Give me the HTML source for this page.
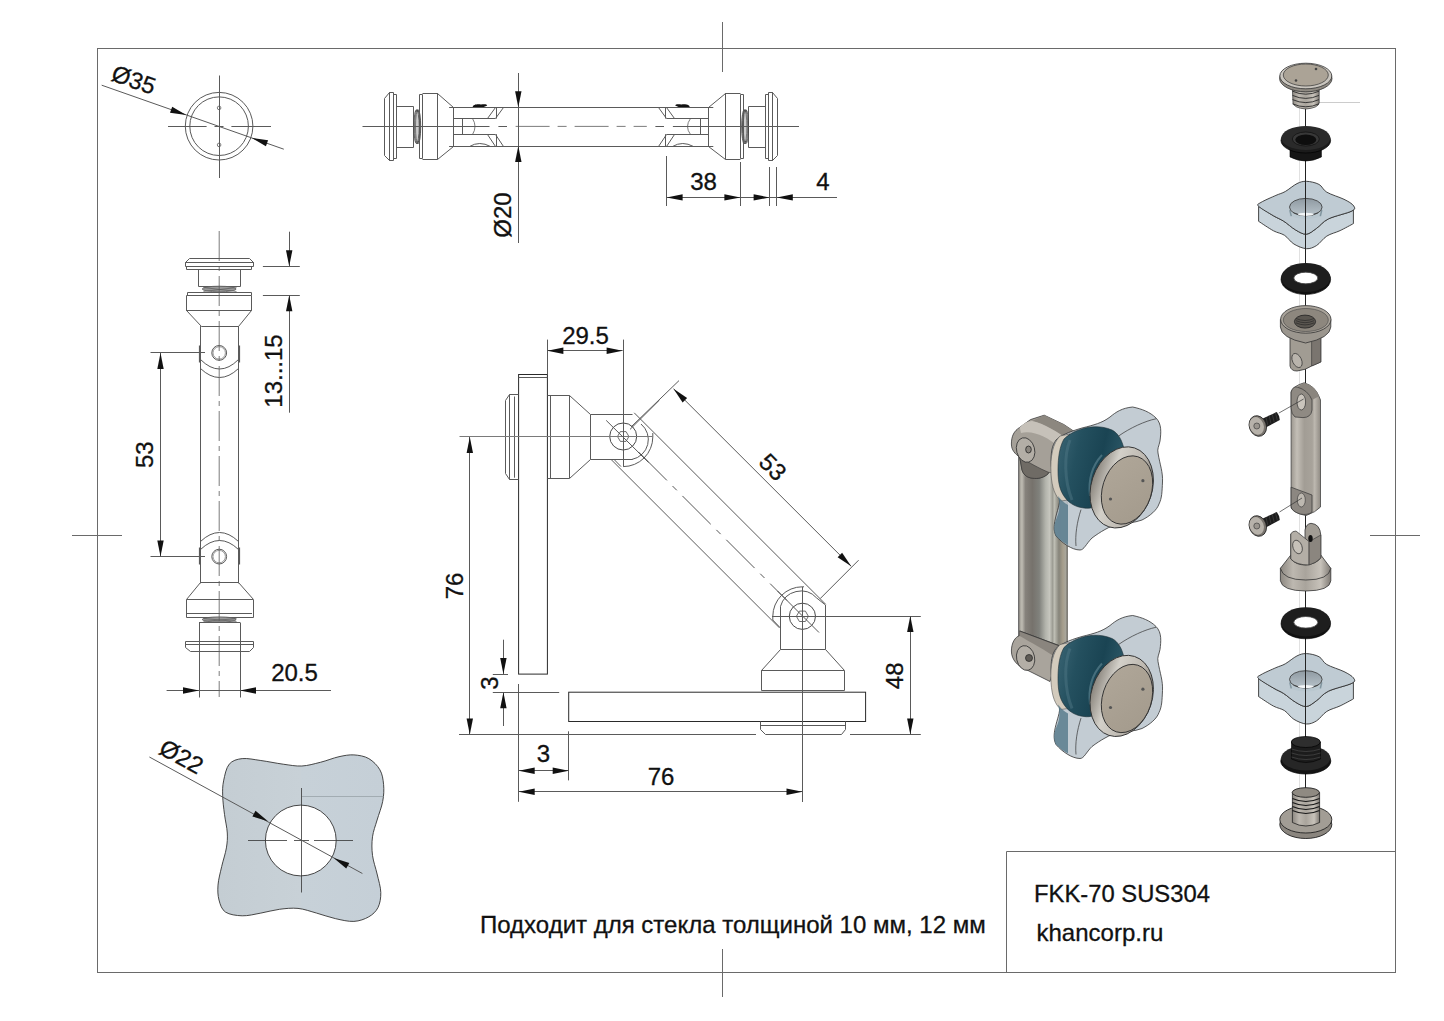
<!DOCTYPE html>
<html><head><meta charset="utf-8"><style>
html,body{margin:0;padding:0;background:#fff;}
body{width:1444px;height:1021px;overflow:hidden;}
svg{display:block;font-family:"Liberation Sans",sans-serif;}
</style></head><body>
<svg width="1444" height="1021" viewBox="0 0 1444 1021">
<defs>
<linearGradient id="plate" x1="0" y1="0" x2="1" y2="0"><stop offset="0" stop-color="#c4cdd3"/><stop offset="0.5" stop-color="#c8d1d7"/><stop offset="0.5" stop-color="#c7d1d8"/><stop offset="1" stop-color="#c5cfd7"/></linearGradient>
<linearGradient id="tube" x1="0" y1="0" x2="1" y2="0"><stop offset="0" stop-color="#5f5c58"/><stop offset="0.03" stop-color="#a8a59d"/><stop offset="0.07" stop-color="#bfbcb3"/><stop offset="0.14" stop-color="#86827c"/><stop offset="0.28" stop-color="#76726c"/><stop offset="0.42" stop-color="#80817c"/><stop offset="0.55" stop-color="#b3b4ac"/><stop offset="0.63" stop-color="#c6c6be"/><stop offset="0.69" stop-color="#9e9e95"/><stop offset="0.73" stop-color="#bdbdb3"/><stop offset="0.82" stop-color="#86847a"/><stop offset="0.9" stop-color="#a69e8c"/><stop offset="0.96" stop-color="#a8a69c"/><stop offset="1" stop-color="#55524c"/></linearGradient>
<linearGradient id="clev" x1="0" y1="0" x2="1" y2="1"><stop offset="0" stop-color="#a9a49c"/><stop offset="0.5" stop-color="#8b867f"/><stop offset="1" stop-color="#5f5b56"/></linearGradient>
<linearGradient id="teal" x1="0" y1="0" x2="1" y2="0.3"><stop offset="0" stop-color="#3c6675"/><stop offset="0.35" stop-color="#24505f"/><stop offset="0.7" stop-color="#1a4453"/><stop offset="1" stop-color="#2b5766"/></linearGradient>
<linearGradient id="glass" x1="0" y1="0" x2="1" y2="1"><stop offset="0" stop-color="#b8c8d3"/><stop offset="1" stop-color="#c9d5de"/></linearGradient>
<linearGradient id="capface" x1="0" y1="0" x2="1" y2="1"><stop offset="0" stop-color="#b0a799"/><stop offset="1" stop-color="#a39a8c"/></linearGradient>
<linearGradient id="rim" x1="0" y1="0" x2="1" y2="0"><stop offset="0" stop-color="#8a857d"/><stop offset="0.3" stop-color="#d3d0c9"/><stop offset="0.7" stop-color="#bdb8b0"/><stop offset="1" stop-color="#7e7972"/></linearGradient>
<linearGradient id="metal" x1="0" y1="0" x2="1" y2="0"><stop offset="0" stop-color="#8d8881"/><stop offset="0.25" stop-color="#bdb8b0"/><stop offset="0.5" stop-color="#a9a49c"/><stop offset="0.8" stop-color="#c7c2ba"/><stop offset="1" stop-color="#7f7a74"/></linearGradient>
<linearGradient id="rod" x1="0" y1="0" x2="1" y2="0"><stop offset="0" stop-color="#9c978f"/><stop offset="0.2" stop-color="#c3beb6"/><stop offset="0.45" stop-color="#a29d95"/><stop offset="0.72" stop-color="#a8a39b"/><stop offset="0.8" stop-color="#bdb8b0"/><stop offset="1" stop-color="#8f8a83"/></linearGradient>
<linearGradient id="blk" x1="0" y1="0" x2="1" y2="0"><stop offset="0" stop-color="#141414"/><stop offset="0.5" stop-color="#2b2b2b"/><stop offset="1" stop-color="#111"/></linearGradient>
<linearGradient id="holeg" x1="0" y1="0" x2="0" y2="1"><stop offset="0" stop-color="#8f9aa2"/><stop offset="1" stop-color="#b8c3ca"/></linearGradient>
<linearGradient id="glassx" x1="0" y1="0" x2="0" y2="1"><stop offset="0" stop-color="#c2d0da"/><stop offset="1" stop-color="#c9d5dd"/></linearGradient>
</defs>
<rect x="97.5" y="48.5" width="1298" height="924" fill="none" stroke="#6a6a6a" stroke-width="1"/>
<line x1="722.5" y1="22.0" x2="722.5" y2="72.0" stroke="#6a6a6a" stroke-width="1" />
<line x1="722.5" y1="949.0" x2="722.5" y2="997.0" stroke="#6a6a6a" stroke-width="1" />
<line x1="72.0" y1="535.5" x2="122.0" y2="535.5" stroke="#6a6a6a" stroke-width="1" />
<line x1="1370.0" y1="535.5" x2="1420.0" y2="535.5" stroke="#6a6a6a" stroke-width="1" />
<polyline points="1006.5,973 1006.5,851.5 1395.5,851.5" fill="none" stroke="#6a6a6a" stroke-width="1"/>
<text x="1034.0" y="902.0" font-size="23.8" text-anchor="start" fill="#111" stroke="#111" stroke-width="0.3">FKK-70 SUS304</text>
<text x="1036.5" y="940.5" font-size="24" text-anchor="start" fill="#111" stroke="#111" stroke-width="0.3">khancorp.ru</text>
<text x="480.0" y="932.7" font-size="24" text-anchor="start" fill="#111" stroke="#111" stroke-width="0.3">Подходит для стекла толщиной 10 мм, 12 мм</text>
<circle cx="219.1" cy="126.2" r="33.8" fill="none" stroke="#5a5a5a" stroke-width="1"/>
<circle cx="219.1" cy="126.2" r="29.3" fill="none" stroke="#5a5a5a" stroke-width="1"/>
<circle cx="219.1" cy="107.9" r="1.8" fill="none" stroke="#5a5a5a" stroke-width="0.8"/>
<circle cx="219.1" cy="144.9" r="1.8" fill="none" stroke="#5a5a5a" stroke-width="0.8"/>
<line x1="219.5" y1="75.5" x2="219.5" y2="178.0" stroke="#5a5a5a" stroke-width="1" />
<line x1="168.0" y1="126.5" x2="206.6" y2="126.5" stroke="#5a5a5a" stroke-width="1" />
<line x1="214.5" y1="126.5" x2="223.5" y2="126.5" stroke="#5a5a5a" stroke-width="1" />
<line x1="231.4" y1="126.5" x2="271.0" y2="126.5" stroke="#5a5a5a" stroke-width="1" />
<line x1="101.7" y1="85.2" x2="283.8" y2="149.2" stroke="#5a5a5a" stroke-width="1" />
<polygon points="186.2,115.0 170.0,112.7 172.2,106.7" fill="#111"/>
<polygon points="251.9,138.0 268.1,140.3 265.9,146.3" fill="#111"/>
<text x="131.0" y="87.5" font-size="23.6" text-anchor="middle" fill="#111" stroke="#111" stroke-width="0.3" transform="rotate(19.4 131.0 87.5)">Ø35</text>
<path d="M389.5,92.5 L393.5,92.5 L393.5,160.5 L389.5,160.5 L384.5,155.5 L384.5,98.5 L389.5,92.5" stroke="#5a5a5a" stroke-width="1" fill="none" />
<line x1="389.5" y1="92.2" x2="389.5" y2="160.8" stroke="#5a5a5a" stroke-width="1" />
<path d="M393.5,94.5 L396.5,94.5 L396.5,158.5 L393.5,158.5" stroke="#5a5a5a" stroke-width="1" fill="none" />
<path d="M396.5,106.5 L413.5,106.5 L413.5,147.5 L396.5,147.5" stroke="#5a5a5a" stroke-width="1" fill="none" />
<ellipse cx="416.5" cy="126.7" rx="2.6" ry="17" fill="none" stroke="#444" stroke-width="0.9"/>
<ellipse cx="417.3" cy="126.7" rx="2.6" ry="17" fill="none" stroke="#444" stroke-width="0.9"/>
<ellipse cx="418.1" cy="126.7" rx="2.6" ry="17" fill="none" stroke="#444" stroke-width="0.9"/>
<rect x="414.5" y="112" width="4" height="29" fill="#999" opacity="0.5"/>
<path d="M419.5,94.5 L422.5,94.5 L422.5,158.5 L419.5,158.5 L419.5,94.5" stroke="#5a5a5a" stroke-width="1" fill="none" />
<path d="M422.5,93.5 L437.5,93.5 L453.5,107.5 L453.5,146.5 L437.5,159.5 L422.5,159.5" stroke="#5a5a5a" stroke-width="1" fill="none" />
<line x1="437.5" y1="93.1" x2="437.5" y2="159.5" stroke="#5a5a5a" stroke-width="1" />
<path d="M453.5,118.5 L495.5,118.5" stroke="#5a5a5a" stroke-width="1" fill="none" />
<path d="M487.5,118.5 L495.5,107.5" stroke="#5a5a5a" stroke-width="1" fill="none" />
<path d="M453.5,134.5 L495.5,134.5" stroke="#5a5a5a" stroke-width="1" fill="none" />
<path d="M487.5,134.5 L495.5,146.5" stroke="#5a5a5a" stroke-width="1" fill="none" />
<line x1="496.5" y1="107.2" x2="496.5" y2="118.6" stroke="#5a5a5a" stroke-width="1" />
<line x1="496.5" y1="134.2" x2="496.5" y2="146.1" stroke="#5a5a5a" stroke-width="1" />
<path d="M495.5,118.5 L503.5,107.5" stroke="#5a5a5a" stroke-width="1" fill="none" />
<path d="M495.5,134.5 L503.5,146.5" stroke="#5a5a5a" stroke-width="1" fill="none" />
<line x1="462.5" y1="118.6" x2="462.5" y2="134.2" stroke="#5a5a5a" stroke-width="1" />
<path d="M472.5,118.5 Q477.5,126.5 472.5,134.5" stroke="#5a5a5a" stroke-width="0.8" fill="none" />
<path d="M469.5,146.5 Q479.5,140.5 490.5,146.5" stroke="#5a5a5a" stroke-width="1" fill="none" />
<path d="M472.6,107.4 C473.0,104 478.0,104 481.0,104.5 C484.0,104 487.0,104 487.2,105.5 C484.0,107 482.0,108 480.0,108 Z" fill="#111"/>
<path d="M772.5,92.5 L768.5,92.5 L768.5,160.5 L772.5,160.5 L777.5,155.5 L777.5,98.5 L772.5,92.5" stroke="#5a5a5a" stroke-width="1" fill="none" />
<line x1="772.5" y1="92.2" x2="772.5" y2="160.8" stroke="#5a5a5a" stroke-width="1" />
<path d="M768.5,94.5 L765.5,94.5 L765.5,158.5 L768.5,158.5" stroke="#5a5a5a" stroke-width="1" fill="none" />
<path d="M765.5,106.5 L748.5,106.5 L748.5,147.5 L765.5,147.5" stroke="#5a5a5a" stroke-width="1" fill="none" />
<ellipse cx="745.9" cy="126.7" rx="2.6" ry="17" fill="none" stroke="#444" stroke-width="0.9"/>
<ellipse cx="745.1" cy="126.7" rx="2.6" ry="17" fill="none" stroke="#444" stroke-width="0.9"/>
<ellipse cx="744.3" cy="126.7" rx="2.6" ry="17" fill="none" stroke="#444" stroke-width="0.9"/>
<rect x="743.9" y="112" width="4" height="29" fill="#999" opacity="0.5"/>
<path d="M743.5,94.5 L740.5,94.5 L740.5,158.5 L743.5,158.5 L743.5,94.5" stroke="#5a5a5a" stroke-width="1" fill="none" />
<path d="M740.5,93.5 L725.5,93.5 L708.5,107.5 L708.5,146.5 L725.5,159.5 L740.5,159.5" stroke="#5a5a5a" stroke-width="1" fill="none" />
<line x1="725.5" y1="93.1" x2="725.5" y2="159.5" stroke="#5a5a5a" stroke-width="1" />
<path d="M708.5,118.5 L666.5,118.5" stroke="#5a5a5a" stroke-width="1" fill="none" />
<path d="M674.5,118.5 L666.5,107.5" stroke="#5a5a5a" stroke-width="1" fill="none" />
<path d="M708.5,134.5 L666.5,134.5" stroke="#5a5a5a" stroke-width="1" fill="none" />
<path d="M674.5,134.5 L666.5,146.5" stroke="#5a5a5a" stroke-width="1" fill="none" />
<line x1="665.5" y1="107.2" x2="665.5" y2="118.6" stroke="#5a5a5a" stroke-width="1" />
<line x1="665.5" y1="134.2" x2="665.5" y2="146.1" stroke="#5a5a5a" stroke-width="1" />
<path d="M666.5,118.5 L658.5,107.5" stroke="#5a5a5a" stroke-width="1" fill="none" />
<path d="M666.5,134.5 L658.5,146.5" stroke="#5a5a5a" stroke-width="1" fill="none" />
<line x1="700.5" y1="118.6" x2="700.5" y2="134.2" stroke="#5a5a5a" stroke-width="1" />
<path d="M690.5,118.5 Q684.5,126.5 690.5,134.5" stroke="#5a5a5a" stroke-width="0.8" fill="none" />
<path d="M693.5,146.5 Q682.5,140.5 672.5,146.5" stroke="#5a5a5a" stroke-width="1" fill="none" />
<path d="M689.8,107.4 C689.4,104 684.4,104 681.4,104.5 C678.4,104 675.4,104 675.2,105.5 C678.4,107 680.4,108 682.4,108 Z" fill="#111"/>
<line x1="449.1" y1="107.5" x2="713.3" y2="107.5" stroke="#5a5a5a" stroke-width="1" />
<line x1="449.1" y1="146.5" x2="713.3" y2="146.5" stroke="#5a5a5a" stroke-width="1" />
<line x1="362.5" y1="126.5" x2="450.0" y2="126.5" stroke="#5a5a5a" stroke-width="1" />
<line x1="450.0" y1="126.5" x2="489.5" y2="126.5" stroke="#5a5a5a" stroke-width="1" />
<line x1="498.4" y1="126.5" x2="507.0" y2="126.5" stroke="#5a5a5a" stroke-width="1" />
<line x1="515.6" y1="126.4" x2="646.8" y2="126.4" stroke="#5a5a5a" stroke-width="0.8" stroke-dasharray="34,8,9,8"/>
<line x1="655.4" y1="126.5" x2="664.0" y2="126.5" stroke="#5a5a5a" stroke-width="1" />
<line x1="672.9" y1="126.5" x2="799.0" y2="126.5" stroke="#5a5a5a" stroke-width="1" />
<line x1="518.5" y1="73.0" x2="518.5" y2="243.0" stroke="#5a5a5a" stroke-width="1" />
<polygon points="518.3,107.2 515.1,91.2 521.5,91.2" fill="#111"/>
<polygon points="518.3,146.1 521.5,162.1 515.1,162.1" fill="#111"/>
<text x="510.5" y="215.0" font-size="24" text-anchor="middle" fill="#111" stroke="#111" stroke-width="0.3" transform="rotate(-90 510.5 215.0)">Ø20</text>
<line x1="666.5" y1="156.0" x2="666.5" y2="206.0" stroke="#5a5a5a" stroke-width="1" />
<line x1="740.5" y1="162.0" x2="740.5" y2="206.0" stroke="#5a5a5a" stroke-width="1" />
<line x1="769.5" y1="167.0" x2="769.5" y2="206.0" stroke="#5a5a5a" stroke-width="1" />
<line x1="776.5" y1="167.0" x2="776.5" y2="206.0" stroke="#5a5a5a" stroke-width="1" />
<line x1="666.6" y1="197.5" x2="837.0" y2="197.5" stroke="#5a5a5a" stroke-width="1" />
<polygon points="666.6,197.4 682.6,194.2 682.6,200.6" fill="#111"/>
<polygon points="740.4,197.4 724.4,200.6 724.4,194.2" fill="#111"/>
<polygon points="769.6,197.4 753.6,200.6 753.6,194.2" fill="#111"/>
<polygon points="776.8,197.4 792.8,194.2 792.8,200.6" fill="#111"/>
<text x="703.5" y="190.0" font-size="24" text-anchor="middle" fill="#111" stroke="#111" stroke-width="0.3">38</text>
<text x="823.0" y="190.0" font-size="24" text-anchor="middle" fill="#111" stroke="#111" stroke-width="0.3">4</text>
<path d="M185.5,266.5 L185.5,262.5 L189.5,258.5 L249.5,258.5 L253.5,262.5 L253.5,266.5 L185.5,266.5" stroke="#5a5a5a" stroke-width="1" fill="none" />
<line x1="185.3" y1="262.5" x2="253.9" y2="262.5" stroke="#5a5a5a" stroke-width="1" />
<path d="M186.5,266.5 L186.5,269.5 L251.5,269.5 L251.5,266.5" stroke="#5a5a5a" stroke-width="1" fill="none" />
<path d="M198.5,269.5 L198.5,286.5 L240.5,286.5 L240.5,269.5" stroke="#5a5a5a" stroke-width="1" fill="none" />
<ellipse cx="219.2" cy="289.0" rx="17" ry="2.8" fill="#999" stroke="#5a5a5a" stroke-width="0.8"/>
<path d="M203.5,287.5 L236.5,291.5" stroke="#5a5a5a" stroke-width="0.7" fill="none" />
<path d="M203.5,291.5 L236.5,287.5" stroke="#5a5a5a" stroke-width="0.7" fill="none" />
<path d="M187.5,295.5 L187.5,292.5 L251.5,292.5 L251.5,295.5" stroke="#5a5a5a" stroke-width="1" fill="none" />
<path d="M186.5,295.5 L251.5,295.5 L251.5,310.5 L238.5,326.5 L201.5,326.5 L186.5,310.5 L186.5,295.5" stroke="#5a5a5a" stroke-width="1" fill="none" />
<line x1="186.0" y1="310.5" x2="251.8" y2="310.5" stroke="#5a5a5a" stroke-width="1" />
<line x1="200.5" y1="326.1" x2="200.5" y2="400.0" stroke="#5a5a5a" stroke-width="1" />
<line x1="238.5" y1="326.1" x2="238.5" y2="400.0" stroke="#5a5a5a" stroke-width="1" />
<path d="M199.5,345.5 L199.5,362.5" stroke="#5a5a5a" stroke-width="1.2" fill="none" />
<path d="M239.5,345.5 L239.5,362.5" stroke="#5a5a5a" stroke-width="1.2" fill="none" />
<circle cx="219.2" cy="352.9" r="7.4" fill="none" stroke="#5a5a5a" stroke-width="1"/>
<circle cx="219.2" cy="352.9" r="6.2" fill="none" stroke="#5a5a5a" stroke-width="0.6"/>
<path d="M200.5,359.5 Q219.5,378.5 238.5,359.5" stroke="#5a5a5a" stroke-width="1" fill="none" />
<path d="M200.5,368.5 Q219.5,386.5 238.5,368.5" stroke="#5a5a5a" stroke-width="1" fill="none" />
<line x1="200.5" y1="583.4" x2="200.5" y2="509.5" stroke="#5a5a5a" stroke-width="1" />
<line x1="238.5" y1="583.4" x2="238.5" y2="509.5" stroke="#5a5a5a" stroke-width="1" />
<path d="M199.5,564.5 L199.5,547.5" stroke="#5a5a5a" stroke-width="1.2" fill="none" />
<path d="M239.5,564.5 L239.5,547.5" stroke="#5a5a5a" stroke-width="1.2" fill="none" />
<circle cx="219.2" cy="556.6" r="7.4" fill="none" stroke="#5a5a5a" stroke-width="1"/>
<circle cx="219.2" cy="556.6" r="6.2" fill="none" stroke="#5a5a5a" stroke-width="0.6"/>
<path d="M200.5,549.5 Q219.5,531.5 238.5,549.5" stroke="#5a5a5a" stroke-width="1" fill="none" />
<path d="M200.5,541.5 Q219.5,523.5 238.5,541.5" stroke="#5a5a5a" stroke-width="1" fill="none" />
<path d="M200.5,582.5 L238.5,582.5 L253.5,599.5 L253.5,617.5 L186.5,617.5 L186.5,599.5 L200.5,582.5" stroke="#5a5a5a" stroke-width="1" fill="none" />
<line x1="186.7" y1="599.5" x2="253.0" y2="599.5" stroke="#5a5a5a" stroke-width="1" />
<ellipse cx="219.2" cy="619.5" rx="17" ry="2.6" fill="#999" stroke="#5a5a5a" stroke-width="0.8"/>
<path d="M203.5,618.5 L236.5,621.5" stroke="#5a5a5a" stroke-width="0.7" fill="none" />
<path d="M203.5,621.5 L236.5,618.5" stroke="#5a5a5a" stroke-width="0.7" fill="none" />
<line x1="187.0" y1="613.5" x2="252.0" y2="613.5" stroke="#5a5a5a" stroke-width="1" />
<path d="M199.5,622.5 L199.5,697.5" stroke="#5a5a5a" stroke-width="1" fill="none" />
<path d="M240.5,622.5 L240.5,697.5" stroke="#5a5a5a" stroke-width="1" fill="none" />
<line x1="199.0" y1="622.5" x2="240.0" y2="622.5" stroke="#5a5a5a" stroke-width="1" />
<path d="M185.5,641.5 L253.5,641.5 L253.5,647.5 L249.5,651.5 L190.5,651.5 L185.5,647.5 Z" stroke="#5a5a5a" stroke-width="1" fill="none" />
<line x1="185.3" y1="644.5" x2="253.6" y2="644.5" stroke="#5a5a5a" stroke-width="1" />
<line x1="200.5" y1="400.0" x2="200.5" y2="510.0" stroke="#5a5a5a" stroke-width="1" />
<line x1="238.5" y1="400.0" x2="238.5" y2="510.0" stroke="#5a5a5a" stroke-width="1" />
<line x1="219.2" y1="231" x2="219.2" y2="697" stroke="#5a5a5a" stroke-width="0.8" stroke-dasharray="30,5,5,5"/>
<line x1="262.9" y1="266.5" x2="299.8" y2="266.5" stroke="#5a5a5a" stroke-width="1" />
<line x1="262.9" y1="295.5" x2="299.8" y2="295.5" stroke="#5a5a5a" stroke-width="1" />
<line x1="289.5" y1="231.7" x2="289.5" y2="266.3" stroke="#5a5a5a" stroke-width="1" />
<line x1="289.5" y1="295.2" x2="289.5" y2="412.7" stroke="#5a5a5a" stroke-width="1" />
<polygon points="289.2,266.3 286.0,250.3 292.4,250.3" fill="#111"/>
<polygon points="289.2,295.2 292.4,311.2 286.0,311.2" fill="#111"/>
<text x="282.3" y="371.0" font-size="24" text-anchor="middle" fill="#111" stroke="#111" stroke-width="0.3" transform="rotate(-90 282.3 371.0)">13...15</text>
<line x1="150.5" y1="352.5" x2="205.0" y2="352.5" stroke="#5a5a5a" stroke-width="1" />
<line x1="150.5" y1="556.5" x2="205.0" y2="556.5" stroke="#5a5a5a" stroke-width="1" />
<line x1="160.5" y1="352.9" x2="160.5" y2="556.6" stroke="#5a5a5a" stroke-width="1" />
<polygon points="160.5,352.9 163.7,368.9 157.3,368.9" fill="#111"/>
<polygon points="160.5,556.6 157.3,540.6 163.7,540.6" fill="#111"/>
<text x="153.0" y="454.7" font-size="24" text-anchor="middle" fill="#111" stroke="#111" stroke-width="0.3" transform="rotate(-90 153.0 454.7)">53</text>
<line x1="166.6" y1="690.5" x2="331.0" y2="690.5" stroke="#5a5a5a" stroke-width="1" />
<polygon points="199.0,690.5 183.0,693.7 183.0,687.3" fill="#111"/>
<polygon points="240.0,690.5 256.0,687.3 256.0,693.7" fill="#111"/>
<text x="294.5" y="681.4" font-size="24" text-anchor="middle" fill="#111" stroke="#111" stroke-width="0.3">20.5</text>
<rect x="518.6" y="374.5" width="28.8" height="299.6" fill="none" stroke="#2a2a2a" stroke-width="1"/>
<line x1="518.6" y1="377.5" x2="547.4" y2="377.5" stroke="#5a5a5a" stroke-width="1" />
<rect x="568.7" y="692.2" width="296.9" height="29.3" fill="none" stroke="#2a2a2a" stroke-width="1"/>
<path d="M518.5,394.5 L509.5,394.5 L505.5,400.5 L505.5,473.5 L509.5,479.5 L518.5,479.5" stroke="#5a5a5a" stroke-width="1" fill="none" />
<line x1="509.5" y1="394.5" x2="509.5" y2="479.7" stroke="#5a5a5a" stroke-width="1" />
<line x1="514.5" y1="396.5" x2="514.5" y2="477.7" stroke="#5a5a5a" stroke-width="1" />
<path d="M547.5,395.5 L569.5,395.5 L590.5,414.5 L590.5,459.5 L569.5,478.5 L547.5,478.5" stroke="#5a5a5a" stroke-width="1" fill="none" />
<line x1="569.5" y1="395.4" x2="569.5" y2="478.3" stroke="#5a5a5a" stroke-width="1" />
<line x1="550.5" y1="395.4" x2="550.5" y2="478.3" stroke="#5a5a5a" stroke-width="1" />
<path d="M590.5,414.5 L632.5,414.5" stroke="#5a5a5a" stroke-width="1" fill="none" />
<path d="M590.5,459.5 L632.5,459.5" stroke="#5a5a5a" stroke-width="1" fill="none" />
<path d="M632,459.4 A20.2,20.2 0 0 0 641,424" fill="none" stroke="#5a5a5a" stroke-width="1"/>
<path d="M623.2,466.6 A29.6,29.6 0 0 0 652.8,437 L652.8,433" fill="none" stroke="#5a5a5a" stroke-width="1"/>
<path d="M614,459.4 L621,466.6" fill="none" stroke="#5a5a5a" stroke-width="1"/>
<circle cx="623.2" cy="436.5" r="13.5" fill="none" stroke="#4a4a4a" stroke-width="1"/>
<polygon points="628.9,436.5 626.05,441.4 620.35,441.4 617.5,436.5 620.35,431.6 626.05,431.6" fill="none" stroke="#4a4a4a" stroke-width="0.8"/>
<line x1="459.5" y1="436.5" x2="652.8" y2="436.5" stroke="#7a7a7a" stroke-width="1" />
<line x1="623.5" y1="339.6" x2="623.5" y2="466.6" stroke="#5a5a5a" stroke-width="1" />
<line x1="606.2" y1="420.4" x2="648.5" y2="462.3" stroke="#5a5a5a" stroke-width="1" />
<line x1="630.0" y1="429.4" x2="659.5" y2="400.0" stroke="#5a5a5a" stroke-width="1" />
<line x1="547.5" y1="339.6" x2="547.5" y2="374.5" stroke="#5a5a5a" stroke-width="1" />
<line x1="547.4" y1="350.5" x2="622.6" y2="350.5" stroke="#5a5a5a" stroke-width="1" />
<polygon points="547.4,350.8 563.4,347.6 563.4,354.0" fill="#111"/>
<polygon points="622.6,350.8 606.6,354.0 606.6,347.6" fill="#111"/>
<text x="585.5" y="343.5" font-size="24" text-anchor="middle" fill="#111" stroke="#111" stroke-width="0.3">29.5</text>
<line x1="634.2" y1="412.8" x2="825.7" y2="604.3" stroke="#5a5a5a" stroke-width="1" />
<line x1="611.3" y1="459.7" x2="779.5" y2="627.9" stroke="#5a5a5a" stroke-width="1" />
<line x1="638.6" y1="452.1" x2="787.0" y2="600.5" stroke="#2a2a2a" stroke-width="0.8" stroke-dasharray="40,8,6,8"/>
<path d="M780.5,649.5 L780.5,606.5" stroke="#5a5a5a" stroke-width="1" fill="none" />
<path d="M780.4,606.6 A21.3,21.3 0 0 1 816.7,598 L825.5,605 L825.5,649.4" fill="none" stroke="#5a5a5a" stroke-width="1"/>
<path d="M772.8,620 L772.8,616.3 A29.5,29.5 0 0 1 802.4,586.8 L804,586.8" fill="none" stroke="#5a5a5a" stroke-width="1"/>
<path d="M772.8,620 L780,627.5" fill="none" stroke="#5a5a5a" stroke-width="1"/>
<circle cx="802.4" cy="616.3" r="13.1" fill="none" stroke="#4a4a4a" stroke-width="1"/>
<polygon points="808.4,616.3 805.4,621.5 799.4,621.5 796.4,616.3 799.4,611.1 805.4,611.1" fill="none" stroke="#4a4a4a" stroke-width="0.8"/>
<line x1="777.5" y1="591.0" x2="819.0" y2="632.5" stroke="#5a5a5a" stroke-width="1" />
<path d="M780.5,649.5 L825.5,649.5 L844.5,670.5 L844.5,690.5 L761.5,690.5 L761.5,670.5 Z" stroke="#5a5a5a" stroke-width="1" fill="none" />
<line x1="761.3" y1="670.5" x2="844.2" y2="670.5" stroke="#5a5a5a" stroke-width="1" />
<line x1="763.0" y1="690.5" x2="842.0" y2="690.5" stroke="#5a5a5a" stroke-width="1" />
<path d="M760.5,721.5 L760.5,729.5 L765.5,734.5 L841.5,734.5 L845.5,729.5 L845.5,721.5" stroke="#5a5a5a" stroke-width="1" fill="none" />
<line x1="761.0" y1="725.5" x2="845.0" y2="725.5" stroke="#5a5a5a" stroke-width="1" />
<line x1="802.5" y1="586.8" x2="802.5" y2="802.0" stroke="#5a5a5a" stroke-width="1" />
<line x1="772.0" y1="616.5" x2="920.8" y2="616.5" stroke="#5a5a5a" stroke-width="1" />
<line x1="459.0" y1="734.5" x2="756.0" y2="734.5" stroke="#5a5a5a" stroke-width="1" />
<line x1="850.0" y1="734.5" x2="920.8" y2="734.5" stroke="#5a5a5a" stroke-width="1" />
<line x1="631.0" y1="427.0" x2="679.0" y2="380.6" stroke="#5a5a5a" stroke-width="1" />
<line x1="820.2" y1="598.6" x2="858.6" y2="560.2" stroke="#5a5a5a" stroke-width="1" />
<line x1="673.5" y1="388.8" x2="851.2" y2="566.3" stroke="#5a5a5a" stroke-width="1" />
<polygon points="673.5,388.8 687.1,397.9 682.6,402.4" fill="#111"/>
<polygon points="851.2,566.3 837.6,557.2 842.1,552.7" fill="#111"/>
<text x="767.0" y="473.0" font-size="24" text-anchor="middle" fill="#111" stroke="#111" stroke-width="0.3" transform="rotate(45 767.0 473.0)">53</text>
<line x1="469.5" y1="437.0" x2="469.5" y2="734.5" stroke="#5a5a5a" stroke-width="1" />
<polygon points="469.8,437.0 473.0,453.0 466.6,453.0" fill="#111"/>
<polygon points="469.8,734.5 466.6,718.5 473.0,718.5" fill="#111"/>
<text x="463.0" y="586.0" font-size="24" text-anchor="middle" fill="#111" stroke="#111" stroke-width="0.3" transform="rotate(-90 463.0 586.0)">76</text>
<line x1="492.8" y1="674.5" x2="508.0" y2="674.5" stroke="#5a5a5a" stroke-width="1" />
<line x1="492.8" y1="692.5" x2="559.2" y2="692.5" stroke="#5a5a5a" stroke-width="1" />
<line x1="503.5" y1="639.7" x2="503.5" y2="674.1" stroke="#5a5a5a" stroke-width="1" />
<line x1="503.5" y1="692.2" x2="503.5" y2="726.0" stroke="#5a5a5a" stroke-width="1" />
<polygon points="503.4,674.1 500.2,658.1 506.6,658.1" fill="#111"/>
<polygon points="503.4,692.2 506.6,708.2 500.2,708.2" fill="#111"/>
<text x="497.5" y="683.0" font-size="24" text-anchor="middle" fill="#111" stroke="#111" stroke-width="0.3" transform="rotate(-90 497.5 683.0)">3</text>
<line x1="518.5" y1="684.0" x2="518.5" y2="801.8" stroke="#5a5a5a" stroke-width="1" />
<line x1="568.5" y1="731.3" x2="568.5" y2="780.4" stroke="#5a5a5a" stroke-width="1" />
<line x1="518.7" y1="770.5" x2="568.7" y2="770.5" stroke="#5a5a5a" stroke-width="1" />
<polygon points="518.7,770.7 534.7,767.5 534.7,773.9" fill="#111"/>
<polygon points="568.7,770.7 552.7,773.9 552.7,767.5" fill="#111"/>
<text x="543.5" y="762.4" font-size="24" text-anchor="middle" fill="#111" stroke="#111" stroke-width="0.3">3</text>
<line x1="518.7" y1="791.5" x2="802.5" y2="791.5" stroke="#5a5a5a" stroke-width="1" />
<polygon points="518.7,791.7 534.7,788.5 534.7,794.9" fill="#111"/>
<polygon points="802.5,791.7 786.5,794.9 786.5,788.5" fill="#111"/>
<text x="661.0" y="784.5" font-size="24" text-anchor="middle" fill="#111" stroke="#111" stroke-width="0.3">76</text>
<line x1="910.5" y1="616.0" x2="910.5" y2="734.6" stroke="#5a5a5a" stroke-width="1" />
<polygon points="910.3,616.0 913.5,632.0 907.1,632.0" fill="#111"/>
<polygon points="910.3,734.6 907.1,718.6 913.5,718.6" fill="#111"/>
<text x="903.5" y="675.8" font-size="24" text-anchor="middle" fill="#111" stroke="#111" stroke-width="0.3" transform="rotate(-90 903.5 675.8)">48</text>
<path d="M229.2,764.2 C232.3,760.5 236.9,759.2 242.2,758.6 C247.5,758.0 254.0,759.6 260.8,760.5 C267.6,761.4 276.4,763.3 283.2,764.2 C290.0,765.1 295.6,766.3 301.8,766.0 C308.0,765.7 314.2,763.8 320.4,762.3 C326.6,760.8 333.4,757.9 339.0,756.7 C344.6,755.5 348.9,754.6 353.9,754.9 C358.9,755.2 364.5,756.1 368.8,758.6 C373.1,761.1 377.4,765.4 379.9,769.8 C382.4,774.1 383.1,779.4 383.6,784.7 C384.1,790.0 383.8,795.5 382.7,801.4 C381.6,807.3 378.8,814.1 377.1,820.0 C375.4,825.9 373.3,830.9 372.5,836.8 C371.7,842.7 371.7,849.2 372.5,855.4 C373.3,861.6 375.7,867.8 377.1,874.0 C378.5,880.2 380.7,887.0 380.8,892.6 C380.9,898.2 380.0,903.5 378.0,907.5 C376.0,911.5 372.8,914.5 368.8,916.8 C364.8,919.1 359.5,921.1 353.9,921.4 C348.3,921.7 341.5,920.0 335.3,918.6 C329.1,917.2 322.8,914.8 316.6,913.1 C310.4,911.4 304.2,909.0 298.0,908.4 C291.8,907.8 285.6,908.5 279.4,909.3 C273.2,910.1 267.0,912.0 260.8,913.1 C254.6,914.2 248.1,916.0 242.2,915.8 C236.3,915.6 229.4,914.7 225.5,912.1 C221.6,909.5 220.2,904.5 219.0,900.0 C217.8,895.5 217.6,890.7 218.0,885.1 C218.4,879.5 220.3,872.7 221.7,866.5 C223.1,860.3 225.5,853.5 226.4,847.9 C227.3,842.3 227.6,838.6 227.3,833.0 C227.0,827.4 225.3,820.6 224.5,814.4 C223.7,808.2 222.8,801.4 222.7,795.8 C222.5,790.2 222.5,786.2 223.6,780.9 C224.7,775.6 226.1,767.9 229.2,764.2 Z" fill="url(#plate)" stroke="#333" stroke-width="0.9"/>
<circle cx="300.8" cy="840.5" r="35.4" fill="#fff" stroke="#333" stroke-width="0.9"/>
<line x1="302.0" y1="796.5" x2="384.0" y2="796.5" stroke="#8a9399" stroke-width="0.6" />
<line x1="301.5" y1="788.0" x2="301.5" y2="892.5" stroke="#333" stroke-width="0.8" />
<line x1="248.0" y1="840.5" x2="287.0" y2="840.5" stroke="#333" stroke-width="0.8" />
<line x1="294.0" y1="840.5" x2="309.0" y2="840.5" stroke="#333" stroke-width="0.8" />
<line x1="314.0" y1="840.5" x2="353.0" y2="840.5" stroke="#333" stroke-width="0.8" />
<line x1="149.4" y1="757.0" x2="362.4" y2="873.5" stroke="#5a5a5a" stroke-width="1" />
<polygon points="268.0,821.3 252.4,816.4 255.5,810.8" fill="#111"/>
<polygon points="333.7,858.0 349.3,862.9 346.2,868.5" fill="#111"/>
<text x="177.5" y="764.0" font-size="24" text-anchor="middle" fill="#111" stroke="#111" stroke-width="0.3" transform="rotate(28.7 177.5 764.0)">Ø22</text>
<rect x="1018.5" y="450" width="49.3" height="200" fill="url(#tube)"/>
<line x1="1018.5" y1="450" x2="1018.5" y2="650" stroke="#555" stroke-width="0.7"/>
<path d="M1030.5,419.6 L1044.2,415.2 L1063.8,424.5 L1075,432 L1074,470 L1049,472.5 C1047,476 1040,479 1034.4,478.4 C1028,478 1024,476 1022,470 L1019.7,457 C1015,454 1011.4,450 1011.4,444 C1011.4,436 1014,431 1019.7,427.4 Z" fill="#a5a098" stroke="#3a3a3a" stroke-width="0.8"/>
<path d="M1044.2,415.2 L1063.8,424.5 L1075,432 L1068,440 C1058,432 1045,424 1032,421 Z" fill="#8c877f"/>
<path d="M1019.7,427.4 C1024,423 1028,421 1032,421 C1045,424 1058,432 1068,440 L1058,446 C1048,438 1034,430 1021,433 Z" fill="#c6c1b9"/>
<path d="M1019.7,457 C1028,462 1040,469 1049,472.5 C1047,476 1040,479 1034.4,478.4 C1028,478 1024,476 1022,470 Z" fill="#6f6b65" stroke="#333" stroke-width="0.6"/>
<path d="M1049,472.5 L1074,470 L1074,452 C1066,458 1058,466 1049,472.5 Z" fill="#b5b0a8"/>
<ellipse cx="1025.6" cy="450" rx="9" ry="12.5" transform="rotate(-15 1025.6 450)" fill="#b3aea6" stroke="#333" stroke-width="0.8"/>
<ellipse cx="1028.5" cy="449.5" rx="2.8" ry="3.5" fill="#8a857e" stroke="#222" stroke-width="0.8"/>
<path d="M1019.7,631 L1065.7,648 L1062,652 L1058,651 L1050,681.5 L1024.6,668.8 C1018,666 1011.4,660 1011.4,651 C1011.4,643 1015,637 1019.7,635.5 Z" fill="#a9a49c" stroke="#3a3a3a" stroke-width="0.8"/>
<path d="M1019.7,631 L1065.7,648 L1060,660 C1045,650 1030,642 1019.7,636 Z" fill="#8a857e"/>
<path d="M1019.7,631 L1065.7,648.2" stroke="#333" stroke-width="0.8"/>
<ellipse cx="1025.6" cy="658" rx="9" ry="12.5" transform="rotate(-12 1025.6 658)" fill="#b3aea6" stroke="#333" stroke-width="0.8"/>
<circle cx="1029" cy="658" r="3.5" fill="#5f5b56" stroke="#222" stroke-width="0.7"/>
<g transform="translate(0 0)">
<path d="M1132.7,407 C1142,409 1150,412 1156,418 C1162,424 1161,433 1160,441 C1159,446 1157,449 1158,453 C1160,465 1163,472 1162.5,482 C1162,492 1162,498 1159,504 C1157,510 1150,516 1142,520 C1134,523 1126,523 1118,524 C1110,526 1100,532 1092,538 C1086,544 1084,550 1080,550 C1072,550 1062,543 1056,536 C1053,530 1054,524 1056,516 C1058,508 1061,502 1059,494 C1056,486 1052,478 1051.3,466 C1050.5,452 1052,446 1056,440 C1060,436 1068,432 1082,428 C1094,425 1102,423 1110,417 C1116,412 1122,408 1132.7,407 Z" fill="#b8c3cb" fill-opacity="0.85" stroke="#333" stroke-width="0.8"/>
<path d="M1060,436 C1053,443 1050,456 1051,474 C1052,488 1055,496 1061,501 L1068,500 C1062,490 1060,470 1062,452 C1063,444 1066,438 1070,434 Z" fill="#d3cbbd" stroke="#555" stroke-width="0.6"/>
<path d="M1058,496 C1060,504 1060,510 1057,517 C1054,524 1053,530 1056,536 C1060,540 1064,543 1068,545 L1068,505 C1064,503 1061,500 1058,496 Z" fill="#54788a" opacity="0.8"/>
<path d="M1076,431 C1088,426 1100,425 1112,430 C1118,433 1122,440 1124,449 L1108,500 C1098,507 1090,509 1084,508 C1075,507 1070,503 1067,500 C1060,492 1058,484 1058,470 C1058,456 1060,446 1064,439 C1068,435 1072,433 1076,431 Z" fill="url(#teal)" stroke="#1c2f36" stroke-width="0.6"/>
<path d="M1070,440 C1064,455 1064,480 1072,500" fill="none" stroke="#4d7584" stroke-width="3" opacity="0.5"/>
<path d="M1102,455 C1092,466 1088,480 1090,496" fill="none" stroke="#6a8f9c" stroke-width="2" opacity="0.55"/>
<path d="M1118.6,436 C1130,428 1145,421 1156,418.8" fill="none" stroke="#333" stroke-width="0.7"/>
<path d="M1081,509.6 C1077,522 1075,535 1076,546" fill="none" stroke="#333" stroke-width="0.7"/>
<ellipse cx="1121.7" cy="487.4" rx="30.5" ry="41.5" transform="rotate(18 1121.7 487.4)" fill="url(#rim)" stroke="#333" stroke-width="0.9"/>
<ellipse cx="1127" cy="490" rx="24.5" ry="35" transform="rotate(18 1127 490)" fill="url(#capface)" stroke="#333" stroke-width="0.9"/>
<circle cx="1142.9" cy="480.7" r="1.6" fill="#555"/>
<circle cx="1110.5" cy="499" r="1.6" fill="#555"/>
</g>
<g transform="translate(0 208.5)">
<path d="M1132.7,407 C1142,409 1150,412 1156,418 C1162,424 1161,433 1160,441 C1159,446 1157,449 1158,453 C1160,465 1163,472 1162.5,482 C1162,492 1162,498 1159,504 C1157,510 1150,516 1142,520 C1134,523 1126,523 1118,524 C1110,526 1100,532 1092,538 C1086,544 1084,550 1080,550 C1072,550 1062,543 1056,536 C1053,530 1054,524 1056,516 C1058,508 1061,502 1059,494 C1056,486 1052,478 1051.3,466 C1050.5,452 1052,446 1056,440 C1060,436 1068,432 1082,428 C1094,425 1102,423 1110,417 C1116,412 1122,408 1132.7,407 Z" fill="#b8c3cb" fill-opacity="0.85" stroke="#333" stroke-width="0.8"/>
<path d="M1060,436 C1053,443 1050,456 1051,474 C1052,488 1055,496 1061,501 L1068,500 C1062,490 1060,470 1062,452 C1063,444 1066,438 1070,434 Z" fill="#d3cbbd" stroke="#555" stroke-width="0.6"/>
<path d="M1058,496 C1060,504 1060,510 1057,517 C1054,524 1053,530 1056,536 C1060,540 1064,543 1068,545 L1068,505 C1064,503 1061,500 1058,496 Z" fill="#54788a" opacity="0.8"/>
<path d="M1076,431 C1088,426 1100,425 1112,430 C1118,433 1122,440 1124,449 L1108,500 C1098,507 1090,509 1084,508 C1075,507 1070,503 1067,500 C1060,492 1058,484 1058,470 C1058,456 1060,446 1064,439 C1068,435 1072,433 1076,431 Z" fill="url(#teal)" stroke="#1c2f36" stroke-width="0.6"/>
<path d="M1070,440 C1064,455 1064,480 1072,500" fill="none" stroke="#4d7584" stroke-width="3" opacity="0.5"/>
<path d="M1102,455 C1092,466 1088,480 1090,496" fill="none" stroke="#6a8f9c" stroke-width="2" opacity="0.55"/>
<path d="M1118.6,436 C1130,428 1145,421 1156,418.8" fill="none" stroke="#333" stroke-width="0.7"/>
<path d="M1081,509.6 C1077,522 1075,535 1076,546" fill="none" stroke="#333" stroke-width="0.7"/>
<ellipse cx="1121.7" cy="487.4" rx="30.5" ry="41.5" transform="rotate(18 1121.7 487.4)" fill="url(#rim)" stroke="#333" stroke-width="0.9"/>
<ellipse cx="1127" cy="490" rx="24.5" ry="35" transform="rotate(18 1127 490)" fill="url(#capface)" stroke="#333" stroke-width="0.9"/>
<circle cx="1142.9" cy="480.7" r="1.6" fill="#555"/>
<circle cx="1110.5" cy="499" r="1.6" fill="#555"/>
</g>
<line x1="1305.5" y1="100.0" x2="1305.5" y2="825.0" stroke="#222" stroke-width="1" />
<line x1="1299.5" y1="108.0" x2="1299.5" y2="825.0" stroke="#ccc" stroke-width="0.6" />
<line x1="1319.0" y1="102.5" x2="1360.0" y2="102.5" stroke="#aaa" stroke-width="0.6" />
<path d="M1292.2,85 L1319.2,85 L1319.2,103 Q1318,108 1305.8,109 Q1294,108 1293,103 Z" fill="url(#metal)" stroke="#333" stroke-width="0.7"/>
<path d="M1292.5,87.0 Q1305.8,93.0 1319,87.0" fill="none" stroke="#2a2a2a" stroke-width="0.9"/>
<path d="M1292.5,91.2 Q1305.8,97.2 1319,91.2" fill="none" stroke="#2a2a2a" stroke-width="0.9"/>
<path d="M1292.5,95.4 Q1305.8,101.4 1319,95.4" fill="none" stroke="#2a2a2a" stroke-width="0.9"/>
<path d="M1292.5,99.6 Q1305.8,105.6 1319,99.6" fill="none" stroke="#2a2a2a" stroke-width="0.9"/>
<path d="M1292.5,103.8 Q1305.8,109.8 1319,103.8" fill="none" stroke="#2a2a2a" stroke-width="0.9"/>
<ellipse cx="1305.8" cy="78.5" rx="26.2" ry="13.3" fill="#8f8a82" stroke="#333" stroke-width="0.8"/>
<ellipse cx="1305.8" cy="76" rx="26" ry="12.8" fill="#c9c5be" stroke="#333" stroke-width="0.8"/>
<ellipse cx="1305.8" cy="75" rx="22.5" ry="11" fill="#aba396" stroke="#333" stroke-width="0.7"/>
<circle cx="1316" cy="69" r="1.3" fill="#444"/><circle cx="1296" cy="80.5" r="1.3" fill="#444"/>
<path d="M1290,145 L1290,157 Q1305.8,165 1321.4,157 L1321.4,145 Z" fill="#151515" stroke="#000" stroke-width="0.6"/>
<ellipse cx="1305.8" cy="140.5" rx="24.8" ry="12.5" fill="#1b1b1b" stroke="#000" stroke-width="0.7"/>
<ellipse cx="1305.8" cy="138" rx="24.5" ry="12" fill="#2a2a2a"/>
<ellipse cx="1305.8" cy="139" rx="13.5" ry="7" fill="#383838" stroke="#111" stroke-width="0.8"/>
<ellipse cx="1305.8" cy="139.8" rx="10.5" ry="5.2" fill="#0e0e0e"/>
<path d="M1258.6,221.3 C1261.1,222.9 1269.2,228.5 1273.5,230.8 C1277.8,233.1 1281.1,233.1 1284.5,235.3 C1287.9,237.5 1290.2,241.8 1293.9,244.0 C1297.5,246.2 1302.6,248.4 1306.4,248.7 C1310.2,248.9 1313.2,247.6 1316.6,245.5 C1320.0,243.4 1322.9,238.6 1326.8,236.1 C1330.7,233.6 1335.7,232.7 1340.1,230.6 C1344.5,228.5 1351.2,224.8 1353.4,223.6  L1353.4,205.6 C1353.1,206.5 1356.1,208.8 1351.9,211.0 C1347.7,213.2 1334.3,216.0 1328.4,218.9 C1322.5,221.8 1320.3,225.8 1316.6,228.3 C1312.9,230.8 1309.9,233.9 1306.4,234.2 C1302.9,234.5 1299.3,232.1 1295.5,229.9 C1291.7,227.7 1287.4,223.5 1283.7,221.2 C1280.0,218.8 1277.7,218.3 1273.5,215.8 C1269.3,213.3 1261.1,207.9 1258.6,206.3  Z" fill="#c9d4db" stroke="#333" stroke-width="0.9"/>
<path d="M1306.4,181.3 C1310.1,181.4 1315.6,182.6 1319.0,184.4 C1322.4,186.2 1322.6,189.7 1326.8,192.2 C1331.0,194.7 1339.6,197.1 1344.0,199.3 C1348.4,201.5 1352.1,203.6 1353.4,205.6 C1354.7,207.6 1356.1,208.8 1351.9,211.0 C1347.7,213.2 1334.3,216.0 1328.4,218.9 C1322.5,221.8 1320.3,225.8 1316.6,228.3 C1312.9,230.8 1309.9,233.9 1306.4,234.2 C1302.9,234.5 1299.3,232.1 1295.5,229.9 C1291.7,227.7 1287.4,223.5 1283.7,221.2 C1280.0,218.8 1277.7,218.3 1273.5,215.8 C1269.3,213.3 1260.7,208.5 1258.6,206.3 C1256.5,204.1 1258.1,204.2 1261.0,202.4 C1263.9,200.6 1271.8,197.2 1275.9,195.4 C1279.9,193.6 1281.8,193.5 1285.3,191.5 C1288.8,189.5 1293.5,185.3 1297.0,183.6 C1300.5,181.9 1302.7,181.2 1306.4,181.3 Z" fill="#bfcbd3" stroke="#333" stroke-width="0.9"/>
<path d="M1289.5,207.1 L1289.5,216.1 Q1305.8,222.1 1322.1,216.1 L1322.1,207.1 Z" fill="#b9c7cf"/>
<path d="M1289.8,210.1 L1291.3,216.1" stroke="#5d7580" stroke-width="1.5" opacity="0.6"/>
<path d="M1321.8,210.1 L1320.3,216.1" stroke="#5d7580" stroke-width="1.5" opacity="0.6"/>
<ellipse cx="1305.8" cy="207.1" rx="16.3" ry="8.7" fill="url(#holeg)" stroke="#333" stroke-width="0.8"/>
<path d="M1293.3,212.6 Q1305.8,218.6 1318.3,212.6" fill="none" stroke="#333" stroke-width="0.7"/>
<ellipse cx="1305.8" cy="214.29999999999998" rx="8" ry="1.6" fill="#f2f5f7"/>
<line x1="1305.5" y1="177.1" x2="1305.5" y2="252.1" stroke="#222" stroke-width="1" />
<ellipse cx="1305.8" cy="279.5" rx="24.8" ry="15" fill="#111" stroke="#000" stroke-width="0.6"/>
<ellipse cx="1305.8" cy="277.5" rx="24.6" ry="14.6" fill="#1e1e1e"/>
<ellipse cx="1305.8" cy="278.0" rx="12" ry="5.8" fill="#fff" stroke="#444" stroke-width="0.8"/>
<path d="M1290,338 L1290,366 Q1291,371 1297,371 Q1306,370 1311.6,366 L1320.8,362 L1320.8,336 Z" fill="#a19c93" stroke="#333" stroke-width="0.8"/>
<path d="M1311.6,340 L1320.8,338 L1320.8,362 L1311.6,366 Z" fill="#7a756f" stroke="#333" stroke-width="0.6"/>
<ellipse cx="1297" cy="360.5" rx="4.5" ry="7.5" transform="rotate(-25 1297 360.5)" fill="#b9b4ac" stroke="#333" stroke-width="0.7"/>
<path d="M1280.4,319.4 L1280.4,327 Q1281,338 1305.6,343 Q1330,338 1330.8,327 L1330.8,319.4 Z" fill="#9b968e" stroke="#333" stroke-width="0.8"/>
<ellipse cx="1305.8" cy="319.4" rx="25.2" ry="13.8" fill="#a9a39a" stroke="#333" stroke-width="0.8"/>
<ellipse cx="1305.8" cy="320" rx="22.5" ry="11.5" fill="#8d877e" stroke="#444" stroke-width="0.6"/>
<ellipse cx="1305" cy="321.6" rx="10.6" ry="6.5" fill="#5a5650" stroke="#222" stroke-width="0.8"/>
<path d="M1296,318.5 Q1305,322.5 1314,318.5" fill="none" stroke="#222" stroke-width="0.6"/>
<path d="M1296,320.7 Q1305,324.7 1314,320.7" fill="none" stroke="#222" stroke-width="0.6"/>
<path d="M1296,322.9 Q1305,326.9 1314,322.9" fill="none" stroke="#222" stroke-width="0.6"/>
<path d="M1291.1,392 Q1293,386 1304.1,382.8 Q1315,386 1319,396.3 L1320.5,400 L1320.5,507 Q1316,512 1306,515.6 Q1294,513 1291.1,508 Z" fill="url(#rod)" stroke="#444" stroke-width="0.8"/>
<path d="M1304.1,382.8 Q1315,386 1319,396.3 L1312,400 Q1308,390 1297,387 Z" fill="#8a857e"/>
<path d="M1291.1,392 Q1293,386 1297,387 Q1308,390 1312,400 L1312,410 Q1311,417.6 1303,417.6 L1295,417 Q1291.1,414 1291.1,408 Z" fill="#8f8a83" stroke="#333" stroke-width="0.7"/>
<ellipse cx="1301.3" cy="402" rx="4.3" ry="8" fill="#c9c4bc" stroke="#333" stroke-width="0.7"/>
<path d="M1291.1,487.2 L1312,495 L1312,512 Q1308,515.6 1300,514 Q1291.1,511 1291.1,506 Z" fill="#8c8781" stroke="#333" stroke-width="0.7"/>
<ellipse cx="1301.3" cy="500" rx="4" ry="7" fill="#bdb8b0" stroke="#333" stroke-width="0.6"/>
<path d="M1261.8,419 L1276.8,412 Q1279.8,416 1279.8,420 L1264.8,428 Z" fill="#1c1c1c"/>
<path d="M1265.8,417.0 L1267.8,425.0" stroke="#444" stroke-width="0.7"/>
<path d="M1269.0,415.5 L1271.0,423.5" stroke="#444" stroke-width="0.7"/>
<path d="M1272.2,414.0 L1274.2,422.0" stroke="#444" stroke-width="0.7"/>
<path d="M1275.4,412.5 L1277.4,420.5" stroke="#444" stroke-width="0.7"/>
<ellipse cx="1257.8" cy="426" rx="8.5" ry="10.5" transform="rotate(-20 1257.8 426)" fill="#77726c" stroke="#222" stroke-width="0.8"/>
<ellipse cx="1256.8" cy="425.5" rx="7" ry="9" transform="rotate(-20 1257.8 426)" fill="#b7b2aa"/>
<circle cx="1256.8" cy="426" r="3" fill="#9a958e" stroke="#333" stroke-width="0.6"/>
<line x1="1278.8" y1="413.1" x2="1303.6" y2="399.0" stroke="#333" stroke-width="0.7" />
<path d="M1261.8,519 L1276.8,512 Q1279.8,516 1279.8,520 L1264.8,528 Z" fill="#1c1c1c"/>
<path d="M1265.8,517.0 L1267.8,525.0" stroke="#444" stroke-width="0.7"/>
<path d="M1269.0,515.5 L1271.0,523.5" stroke="#444" stroke-width="0.7"/>
<path d="M1272.2,514.0 L1274.2,522.0" stroke="#444" stroke-width="0.7"/>
<path d="M1275.4,512.5 L1277.4,520.5" stroke="#444" stroke-width="0.7"/>
<ellipse cx="1257.8" cy="526" rx="8.5" ry="10.5" transform="rotate(-20 1257.8 526)" fill="#77726c" stroke="#222" stroke-width="0.8"/>
<ellipse cx="1256.8" cy="525.5" rx="7" ry="9" transform="rotate(-20 1257.8 526)" fill="#b7b2aa"/>
<circle cx="1256.8" cy="526" r="3" fill="#9a958e" stroke="#333" stroke-width="0.6"/>
<line x1="1279.5" y1="512.0" x2="1302.0" y2="498.0" stroke="#333" stroke-width="0.7" />
<path d="M1280.4,568.3 L1280.4,580.8 Q1282,590.8 1305.8,591 Q1330,590.8 1330.8,580.8 L1330.8,568.3 Z" fill="url(#metal)" stroke="#333" stroke-width="0.8"/>
<path d="M1290.8,555 L1280.4,568.3 Q1283,580 1305.8,580 Q1329,580 1330.8,568.3 L1320.8,555 Z" fill="url(#metal)" stroke="#333" stroke-width="0.8"/>
<path d="M1290.8,534 L1290.8,559 Q1296,565 1305.8,565 Q1316,564 1320.8,558 L1320.8,535 Q1320,524 1311,523.3 Q1306,524 1305,530 L1305,540 Z" fill="#a19c94" stroke="#333" stroke-width="0.8"/>
<path d="M1290.8,534 Q1292,531 1296,531 L1309.1,541.6 L1309.1,565 Q1296,565 1290.8,559 Z" fill="#b3aea6" stroke="#333" stroke-width="0.7"/>
<path d="M1309.1,541.6 L1320.8,535 L1320.8,558 Q1316,563 1309.1,565 Z" fill="#8b867f" stroke="#333" stroke-width="0.6"/>
<ellipse cx="1297.5" cy="547" rx="4.5" ry="7" transform="rotate(-20 1297.5 547)" fill="#c6c1b9" stroke="#333" stroke-width="0.7"/>
<ellipse cx="1310.5" cy="538.5" rx="2.2" ry="3.5" fill="#111"/>
<ellipse cx="1305.8" cy="623.8" rx="24.8" ry="15" fill="#111" stroke="#000" stroke-width="0.6"/>
<ellipse cx="1305.8" cy="621.8" rx="24.6" ry="14.6" fill="#1e1e1e"/>
<ellipse cx="1305.8" cy="622.3" rx="12" ry="5.8" fill="#fff" stroke="#444" stroke-width="0.8"/>
<path d="M1258.6,696.6 C1261.1,698.2 1269.2,703.8 1273.5,706.1 C1277.8,708.4 1281.1,708.4 1284.5,710.6 C1287.9,712.8 1290.2,717.1 1293.9,719.3 C1297.5,721.5 1302.6,723.8 1306.4,724.0 C1310.2,724.2 1313.2,722.9 1316.6,720.8 C1320.0,718.7 1322.9,713.9 1326.8,711.4 C1330.7,708.9 1335.7,708.0 1340.1,705.9 C1344.5,703.8 1351.2,700.1 1353.4,698.9  L1353.4,677.9 C1353.1,678.8 1356.1,681.1 1351.9,683.3 C1347.7,685.5 1334.3,688.3 1328.4,691.2 C1322.5,694.1 1320.3,698.0 1316.6,700.6 C1312.9,703.2 1309.9,706.2 1306.4,706.5 C1302.9,706.8 1299.3,704.4 1295.5,702.2 C1291.7,700.0 1287.4,695.9 1283.7,693.5 C1280.0,691.1 1277.7,690.6 1273.5,688.1 C1269.3,685.6 1261.1,680.2 1258.6,678.6  Z" fill="#c9d4db" stroke="#333" stroke-width="0.9"/>
<path d="M1306.4,653.6 C1310.1,653.7 1315.6,654.9 1319.0,656.7 C1322.4,658.5 1322.6,662.0 1326.8,664.5 C1331.0,667.0 1339.6,669.4 1344.0,671.6 C1348.4,673.8 1352.1,676.0 1353.4,677.9 C1354.7,679.8 1356.1,681.1 1351.9,683.3 C1347.7,685.5 1334.3,688.3 1328.4,691.2 C1322.5,694.1 1320.3,698.0 1316.6,700.6 C1312.9,703.2 1309.9,706.2 1306.4,706.5 C1302.9,706.8 1299.3,704.4 1295.5,702.2 C1291.7,700.0 1287.4,695.9 1283.7,693.5 C1280.0,691.1 1277.7,690.6 1273.5,688.1 C1269.3,685.6 1260.7,680.8 1258.6,678.6 C1256.5,676.4 1258.1,676.5 1261.0,674.7 C1263.9,672.9 1271.8,669.5 1275.9,667.7 C1279.9,665.9 1281.8,665.8 1285.3,663.8 C1288.8,661.8 1293.5,657.6 1297.0,655.9 C1300.5,654.2 1302.7,653.5 1306.4,653.6 Z" fill="#bfcbd3" stroke="#333" stroke-width="0.9"/>
<path d="M1289.5,679.4 L1289.5,688.4 Q1305.8,694.4 1322.1,688.4 L1322.1,679.4 Z" fill="#b9c7cf"/>
<path d="M1289.8,682.4 L1291.3,688.4" stroke="#5d7580" stroke-width="1.5" opacity="0.6"/>
<path d="M1321.8,682.4 L1320.3,688.4" stroke="#5d7580" stroke-width="1.5" opacity="0.6"/>
<ellipse cx="1305.8" cy="679.4" rx="16.3" ry="8.7" fill="url(#holeg)" stroke="#333" stroke-width="0.8"/>
<path d="M1293.3,684.9 Q1305.8,690.9 1318.3,684.9" fill="none" stroke="#333" stroke-width="0.7"/>
<ellipse cx="1305.8" cy="686.6" rx="8" ry="1.6" fill="#f2f5f7"/>
<line x1="1305.5" y1="649.4" x2="1305.5" y2="724.4" stroke="#222" stroke-width="1" />
<ellipse cx="1305.8" cy="761" rx="25" ry="13" fill="#141414" stroke="#000" stroke-width="0.7"/>
<ellipse cx="1305.8" cy="758" rx="24.5" ry="12.5" fill="#262626"/>
<path d="M1291.5,742 L1291.5,759 Q1305.8,766 1320.5,759 L1320.5,742 Z" fill="#1c1c1c" stroke="#000" stroke-width="0.6"/>
<path d="M1291.5,749.0 Q1305.8,754.0 1320.5,749.0" fill="none" stroke="#444" stroke-width="0.8"/>
<path d="M1291.5,753.0 Q1305.8,758.0 1320.5,753.0" fill="none" stroke="#444" stroke-width="0.8"/>
<path d="M1291.5,757.0 Q1305.8,762.0 1320.5,757.0" fill="none" stroke="#444" stroke-width="0.8"/>
<ellipse cx="1305.8" cy="742" rx="14.5" ry="5.5" fill="#2e2e2e" stroke="#000" stroke-width="0.7"/>
<ellipse cx="1305.8" cy="824.5" rx="26" ry="14" fill="#8a857e" stroke="#222" stroke-width="0.9"/>
<ellipse cx="1305.8" cy="819.5" rx="26" ry="13.5" fill="#a29d95" stroke="#222" stroke-width="0.9"/>
<path d="M1292.4,792.5 L1292.4,822.5 Q1305.8,829.5 1319.6,822.5 L1319.6,792.5 Z" fill="url(#metal)" stroke="#222" stroke-width="0.8"/>
<path d="M1292.4,798.5 Q1305.8,804.5 1319.6,798.5" fill="none" stroke="#1a1a1a" stroke-width="1.2"/>
<path d="M1292.4,802.5 Q1305.8,808.5 1319.6,802.5" fill="none" stroke="#1a1a1a" stroke-width="1.2"/>
<path d="M1292.4,806.5 Q1305.8,812.5 1319.6,806.5" fill="none" stroke="#1a1a1a" stroke-width="1.2"/>
<path d="M1292.4,810.5 Q1305.8,816.5 1319.6,810.5" fill="none" stroke="#1a1a1a" stroke-width="1.2"/>
<ellipse cx="1305.8" cy="792.5" rx="13.6" ry="4.8" fill="#8f8a82" stroke="#222" stroke-width="0.9"/>
</svg></body></html>
